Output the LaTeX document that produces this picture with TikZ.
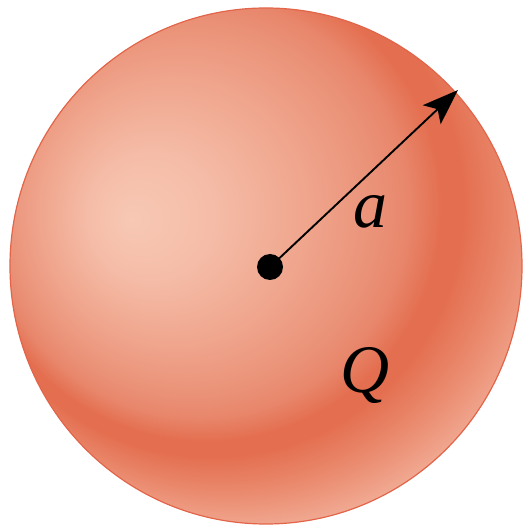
\documentclass[tikz,border=0pt]{standalone}
\usepackage{fontspec}
\setmainfont{Liberation Serif}
\usetikzlibrary{arrows.meta}
\definecolor{sphA}{HTML}{F7C8B4}
\definecolor{sphB}{HTML}{F5BDA8}
\definecolor{sphC}{HTML}{F0A68E}
\definecolor{sphD}{HTML}{EA9278}
\definecolor{sphE}{HTML}{E8866B}
\definecolor{sphF}{HTML}{E46F50}
\definecolor{sphG}{HTML}{EA8A6E}
\definecolor{sphH}{HTML}{F1AA93}
\definecolor{sphI}{HTML}{F3B49E}
\definecolor{rimred}{HTML}{E2654A}
\pgfdeclareradialshading{spherered}{\pgfpoint{-135.8pt}{-25pt}}{%
  color(0pt)=(sphA); color(60pt)=(sphB); color(130pt)=(sphC);
  color(185pt)=(sphD); color(210pt)=(sphE); color(235pt)=(sphF);
  color(252pt)=(sphF); color(290pt)=(sphG); color(330pt)=(sphH); color(420pt)=(sphI)}
\tikzset{
  rim/.style={draw=rimred, line width=1.2pt},
  radius arrow/.style={line width=1.9pt, -{Stealth[length=36pt,width=26pt,inset=8pt]}},
  lbl/.style={font=\fontsize{68}{68}\selectfont\itshape, inner sep=0pt}
}
\begin{document}
\begin{tikzpicture}[x=1pt,y=1pt]
\useasboundingbox (0,0) rectangle (523,528);
\begin{scope}
  \clip (266,262) ellipse [x radius=256, y radius=258];
  \node[inner sep=0pt] (shade) at (265.8,333) {\pgfuseshading{spherered}};
\end{scope}
\path[rim] (266,262) ellipse [x radius=256, y radius=258];
\coordinate (tip) at (458,438);
\node[circle, fill=black, minimum size=26pt, inner sep=0pt] (c) at (270,261) {};
\draw[radius arrow] (c.center) -- (tip);
\node[lbl] (a) at (370,316) {a};
\node[lbl] (q) at (365,152) {Q};
\end{tikzpicture}
\end{document}
